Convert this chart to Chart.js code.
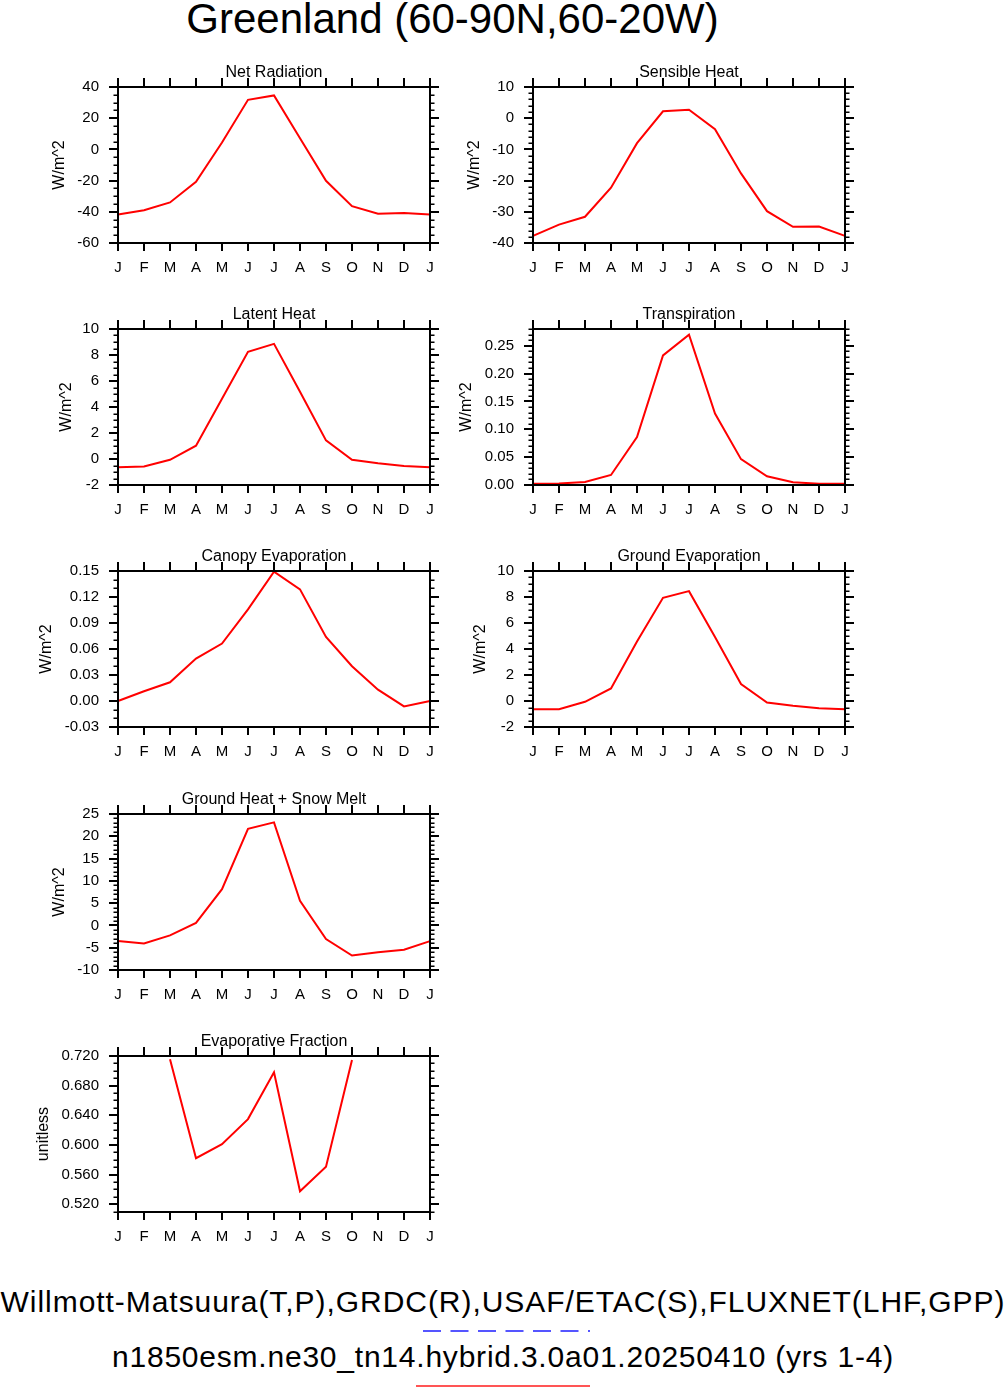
<!DOCTYPE html>
<html>
<head>
<meta charset="utf-8">
<script src="https://cdn.jsdelivr.net/npm/chart.js@4.4.1/dist/chart.umd.min.js"></script>
<style>
  html, body { margin: 0; padding: 0; background: #fff; }
  body { position: relative; width: 1006px; height: 1388px; overflow: hidden;
         font-family: "Liberation Sans", Arial, Helvetica, sans-serif; color: #000; }
  .txt { position: absolute; white-space: nowrap; text-align: center; }
  canvas.panel { position: absolute; }
</style>
</head>
<body>
<div class="txt" id="mainTitle" style="left:0; width:905px; top:-2.5px; font-size:42px; line-height:42px;"></div>
<div class="txt" id="foot1" style="left:0; width:1006px; top:1286.6px; font-size:30px; line-height:30px; letter-spacing:0.95px;"></div>
<div class="txt" id="foot2" style="left:0; width:1006px; top:1341.6px; font-size:30px; line-height:30px; letter-spacing:0.78px;"></div>
<svg style="position:absolute; left:0; top:1320px;" width="1006" height="68">
  <line x1="416" y1="11" x2="590" y2="11" stroke="#5555ff" stroke-width="2" stroke-dasharray="18 9.5" stroke-dashoffset="20.5"/>
  <line x1="416" y1="66" x2="590" y2="66" stroke="#ff5555" stroke-width="2"/>
</svg>

<script>
// ---------------- data ----------------
const months = ['J','F','M','A','M','J','J','A','S','O','N','D','J'];

const netRadiation       = [-41.8, -39.0, -34.0, -20.7, 4.4, 31.8, 34.6, 7.2, -20.1, -36.4, -41.3, -40.7, -41.8];
const sensibleHeat       = [-37.7, -34.1, -31.6, -22.3, -8.0, 2.2, 2.7, -3.5, -17.7, -29.8, -34.8, -34.7, -37.7];
const latentHeat         = [-0.63, -0.58, -0.06, 1.02, 4.63, 8.25, 8.86, 5.17, 1.43, -0.06, -0.32, -0.53, -0.63];
const transpiration      = [0.0024, 0.0027, 0.0054, 0.018, 0.0862, 0.2325, 0.2699, 0.1283, 0.0464, 0.0157, 0.0048, 0.0024, 0.0024];
const canopyEvaporation  = [0.000, 0.0112, 0.0216, 0.049, 0.0663, 0.1057, 0.1492, 0.1288, 0.074, 0.0401, 0.0131, -0.0062, 0.000];
const groundEvaporation  = [-0.63, -0.63, -0.06, 0.97, 4.58, 7.94, 8.45, 4.92, 1.30, -0.12, -0.37, -0.55, -0.63];
const groundHeatSnowMelt = [-3.52, -4.05, -2.24, 0.55, 8.14, 21.69, 23.12, 5.51, -3.07, -6.75, -6.0, -5.47, -3.52];
const evapFraction       = [null, null, 0.7155, 0.5822, 0.6011, 0.6349, 0.6979, 0.5376, 0.5705, 0.7146, null, null, null];

// y tick labels
const netRadiationTicks  = ['-60','-40','-20','0','20','40'];
const sensibleHeatTicks  = ['-40','-30','-20','-10','0','10'];
const latentHeatTicks    = ['-2','0','2','4','6','8','10'];
const transpirationTicks = ['0.00','0.05','0.10','0.15','0.20','0.25'];
const canopyEvapTicks    = ['-0.03','0.00','0.03','0.06','0.09','0.12','0.15'];
const groundEvapTicks    = ['-2','0','2','4','6','8','10'];
const groundHeatTicks    = ['-10','-5','0','5','10','15','20','25'];
const evapFractionTicks  = ['0.520','0.560','0.600','0.640','0.680','0.720'];

// axis ranges and minor tick steps
const netRadiationRange  = [-60, 40, 5];
const sensibleHeatRange  = [-40, 10, 2];
const latentHeatRange    = [-2, 10, 0.5];
const transpirationRange = [0, 0.28, 0.01];
const canopyEvapRange    = [-0.03, 0.15, 0.01];
const groundEvapRange    = [-2, 10, 0.5];
const groundHeatRange    = [-10, 25, 1];
const evapFractionRange  = [0.5096, 0.72, 0.01];

const mainTitle = 'Greenland (60-90N,60-20W)';
const footLine1 = 'Willmott-Matsuura(T,P),GRDC(R),USAF/ETAC(S),FLUXNET(LHF,GPP)';
const footLine2 = 'n1850esm.ne30_tn14.hybrid.3.0a01.20250410 (yrs 1-4)';

// ---------------- layout ----------------
const PLOT_W = 312, PLOT_H = 156;
const AXIS_W = 90, TOP_H = 40, BOT_H = 40, RIGHT_PAD = 30;

const panels = [
  { title: 'Net Radiation',          yTitle: 'W/m^2',    data: netRadiation,       ticks: netRadiationTicks,  range: netRadiationRange,  left: 118, top: 87,    tpad: 22.4 },
  { title: 'Sensible Heat',          yTitle: 'W/m^2',    data: sensibleHeat,       ticks: sensibleHeatTicks,  range: sensibleHeatRange,  left: 533, top: 87,    tpad: 22.4 },
  { title: 'Latent Heat',            yTitle: 'W/m^2',    data: latentHeat,         ticks: latentHeatTicks,    range: latentHeatRange,    left: 118, top: 329,   tpad: 29.4 },
  { title: 'Transpiration',          yTitle: 'W/m^2',    data: transpiration,      ticks: transpirationTicks, range: transpirationRange, left: 533, top: 329,   tpad: 14.1 },
  { title: 'Canopy Evaporation',     yTitle: 'W/m^2',    data: canopyEvaporation,  ticks: canopyEvapTicks,    range: canopyEvapRange,    left: 118, top: 571,   tpad: 9.1 },
  { title: 'Ground Evaporation',     yTitle: 'W/m^2',    data: groundEvaporation,  ticks: groundEvapTicks,    range: groundEvapRange,    left: 533, top: 571,   tpad: 28.4 },
  { title: 'Ground Heat + Snow Melt',yTitle: 'W/m^2',    data: groundHeatSnowMelt, ticks: groundHeatTicks,    range: groundHeatRange,    left: 118, top: 813.5, tpad: 22.4 },
  { title: 'Evaporative Fraction',   yTitle: 'unitless', data: evapFraction,       ticks: evapFractionTicks,  range: evapFractionRange,  left: 118, top: 1056,  tpad: 6.4 }
];

document.getElementById('mainTitle').textContent = mainTitle;
document.getElementById('foot1').textContent = footLine1;
document.getElementById('foot2').textContent = footLine2;

const FONT = "'Liberation Sans', Arial, Helvetica, sans-serif";
Chart.defaults.font.family = FONT;
Chart.defaults.color = '#000';

const frameTicks = {
  id: 'frameTicks',
  afterDatasetsDraw(chart, args, opts) {
    const { ctx, chartArea: a, scales: { x, y } } = chart;
    ctx.save();
    ctx.strokeStyle = '#000';
    ctx.lineCap = 'butt';
    // minor y ticks (both sides, outward)
    const step = opts.minor;
    const k0 = Math.ceil(y.min / step - 1e-6), k1 = Math.floor(y.max / step + 1e-6);
    ctx.lineWidth = 1.5;
    ctx.beginPath();
    for (let k = k0; k <= k1; k++) {
      const py = Math.round(y.getPixelForValue(k * step)) + 0.25;
      ctx.moveTo(a.left, py);  ctx.lineTo(a.left - 4.5, py);
      ctx.moveTo(a.right, py); ctx.lineTo(a.right + 4.5, py);
    }
    ctx.stroke();
    // mirrored major ticks: right (y) and top (x)
    ctx.lineWidth = 2;
    ctx.beginPath();
    y.ticks.forEach(t => {
      const py = Math.round(y.getPixelForValue(t.value));
      ctx.moveTo(a.right, py); ctx.lineTo(a.right + 9, py);
    });
    x.ticks.forEach((t, i) => {
      const px = Math.round(x.getPixelForTick(i));
      ctx.moveTo(px, a.top); ctx.lineTo(px, a.top - 9);
    });
    ctx.stroke();
    // frame
    ctx.lineWidth = 2;
    ctx.strokeRect(a.left, a.top, a.right - a.left, a.bottom - a.top);
    ctx.restore();
  }
};

panels.forEach((p, idx) => {
  const cv = document.createElement('canvas');
  cv.className = 'panel';
  const cw = AXIS_W + PLOT_W + RIGHT_PAD, ch = TOP_H + PLOT_H + BOT_H;
  cv.width = cw; cv.height = ch;
  cv.style.left = (p.left - AXIS_W) + 'px';
  cv.style.top = (p.top - TOP_H) + 'px';
  cv.style.width = cw + 'px'; cv.style.height = ch + 'px';
  document.body.appendChild(cv);

  const tickVals = p.ticks.map(s => parseFloat(s));
  new Chart(cv, {
    type: 'line',
    data: {
      labels: months,
      datasets: [{
        data: p.data,
        borderColor: '#ff0000',
        borderWidth: 2,
        pointRadius: 0,
        tension: 0,
        spanGaps: false,
        fill: false
      }]
    },
    options: {
      responsive: false,
      animation: false,
      devicePixelRatio: 1,
      layout: { padding: { left: 0, right: RIGHT_PAD, top: 0, bottom: 0 } },
      plugins: {
        legend: { display: false },
        tooltip: { enabled: false },
        title: {
          display: true,
          fullSize: false,
          text: p.title,
          color: '#000',
          font: { size: 16, weight: 'normal', family: FONT, lineHeight: 1.2 },
          padding: { top: 16.4, bottom: 4.4 }
        },
        frameTicks: { minor: p.range[2] }
      },
      scales: {
        x: {
          type: 'category',
          offset: false,
          grid: { display: true, drawOnChartArea: false, drawTicks: true, tickLength: 8, color: '#000', lineWidth: 2 },
          border: { display: false },
          ticks: { autoSkip: false, maxRotation: 0, padding: 8, font: { size: 15 }, color: '#000' },
          afterFit: s => { s.height = BOT_H; }
        },
        y: {
          type: 'linear',
          min: p.range[0],
          max: p.range[1],
          grid: { display: true, drawOnChartArea: false, drawTicks: true, tickLength: 9, color: '#000', lineWidth: 2 },
          border: { display: false },
          afterBuildTicks: s => { s.ticks = tickVals.map(v => ({ value: v })); },
          ticks: {
            padding: 10,
            font: { size: 15 },
            color: '#000',
            callback: (v, i) => p.ticks[i]
          },
          title: {
            display: true,
            text: p.yTitle,
            color: '#000',
            font: { size: 16, family: FONT, lineHeight: 1.2 },
            padding: { top: p.tpad, bottom: 0 }
          },
          afterFit: s => { s.width = AXIS_W; }
        }
      }
    },
    plugins: [frameTicks]
  });
});
</script>
</body>
</html>
